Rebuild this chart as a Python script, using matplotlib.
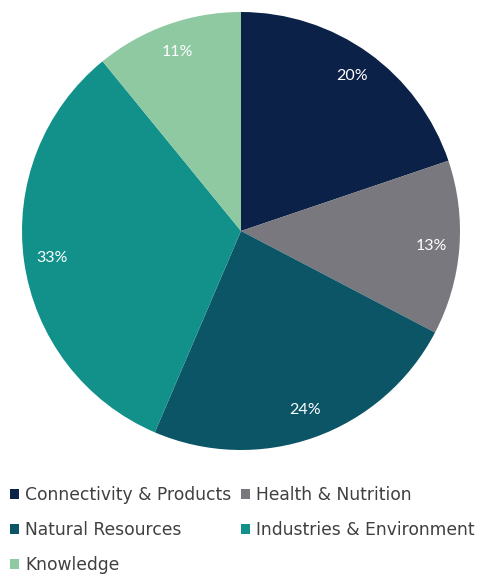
import matplotlib
matplotlib.use("Agg")
import matplotlib.pyplot as plt
from matplotlib.patches import Patch

categories = ["Connectivity & Products", "Health & Nutrition", "Natural Resources",
              "Industries & Environment", "Knowledge"]
shares = [20, 13, 24, 33, 11]
colors = ["#0c2147", "#78787e", "#0b5567", "#12908a", "#8ec9a2"]

plt.rcParams["font.family"] = ["Lato", "DejaVu Sans"]

W, H = 478, 576
fig = plt.figure(figsize=(W / 100, H / 100), dpi=100)

# pie occupies a square area in the upper part of the figure
cx, cy, r = 241, 231, 219
ax = fig.add_axes([(cx - r) / W, 1 - (cy + r) / H, 2 * r / W, 2 * r / H])
wedges, _, autotexts = ax.pie(
    shares, colors=colors, startangle=90, counterclock=False,
    autopct=lambda p: f"{p:.0f}%", pctdistance=0.87,
    textprops=dict(color="white", fontsize=11.5),
    wedgeprops=dict(linewidth=0),
)
ax.set_xlim(-1, 1)
ax.set_ylim(-1, 1)
ax.set_aspect("equal")
ax.axis("off")

# legend laid out row by row: reorder for column-major filling
handles = [Patch(facecolor=c, edgecolor="none") for c in colors]
order = [0, 2, 4, 1, 3]
leg = fig.legend([handles[i] for i in order], [categories[i] for i in order],
                 ncol=2, loc="upper left", bbox_to_anchor=(-0.012, 1 - 471 / H),
                 frameon=False, prop=dict(family="DejaVu Sans", size=12.3),
                 handlelength=0.55, handleheight=0.55,
                 handletextpad=0.35, columnspacing=0.55, labelspacing=0.98,
                 labelcolor="#404040")

fig.savefig("out.png", dpi=100, facecolor="white")
